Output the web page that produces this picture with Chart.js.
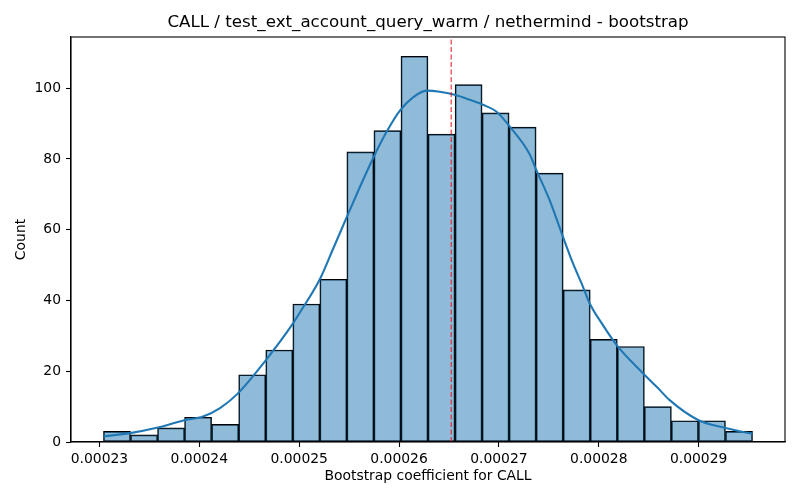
<!DOCTYPE html>
<html>
<head>
<meta charset="utf-8">
<script src="https://cdn.jsdelivr.net/npm/chart.js@4.4.1/dist/chart.umd.min.js"></script>
<style>
  html, body { margin: 0; padding: 0; background: #fff; }
  #wrap { width: 800px; height: 500px; }
</style>
</head>
<body>
<div id="wrap"><canvas id="histChart" width="800" height="500"></canvas></div>
<script>
  // histogram bins (edges) and counts
  const binEdges = [
    0.00023040, 0.00023311, 0.00023582, 0.00023852, 0.00024123, 0.00024394,
    0.00024665, 0.00024936, 0.00025207, 0.00025477, 0.00025748, 0.00026019,
    0.00026290, 0.00026561, 0.00026832, 0.00027102, 0.00027373, 0.00027644,
    0.00027915, 0.00028186, 0.00028457, 0.00028727, 0.00028998, 0.00029269,
    0.00029540
  ];
  const counts = [3, 2, 4, 7, 5, 19, 26, 39, 46, 82, 88, 109, 87, 101, 93, 89, 76, 43, 29, 27, 10, 6, 6, 3];

  // kde curve
  const kdeX = [
    0.0002304, 0.00023307, 0.00023574, 0.0002384, 0.00024037, 0.00024207, 0.00024382,
    0.00024657, 0.0002494, 0.00025007, 0.00025207, 0.0002534, 0.00025474, 0.00025607,
    0.0002574, 0.00025874, 0.00026007, 0.0002614, 0.00026274, 0.00026407, 0.00026557,
    0.00026707, 0.0002684, 0.00026974, 0.00027107, 0.00027307, 0.00027374, 0.00027507,
    0.0002764, 0.0002774, 0.0002784, 0.00027907, 0.0002804, 0.0002819, 0.0002844,
    0.0002859, 0.00028707, 0.0002899, 0.00029257, 0.0002954
  ];
  const kdeY = [
    1.6, 2.5, 4.0, 6.1, 7.2, 9.6, 13.6,
    22.8, 33.6, 36.6, 46.0, 54.6, 63.4, 72.0,
    80.2, 87.6, 93.6, 97.4, 99.3, 99.0, 98.1,
    96.7, 95.3, 93.4, 89.2, 81.4, 76.9, 68.4,
    58.1, 50.6, 44.0, 39.3, 33.1, 27.0, 19.5,
    15.3, 11.9, 6.3, 4.0, 2.3
  ];

  const meanValue = 0.00026522;
  const xTicks = [0.00023, 0.00024, 0.00025, 0.00026, 0.00027, 0.00028, 0.00029];
  const yTicks = [0, 20, 40, 60, 80, 100];
  const xMin = 0.00022715, xMax = 0.00029865;
  const yMax = 114.45;

  const titleText = 'CALL / test_ext_account_query_warm / nethermind - bootstrap';
  const font = 'DejaVu Sans';

  const barData = counts.map((c, i) => ({ x: (binEdges[i] + binEdges[i + 1]) / 2, y: c }));
  const kdeData = kdeX.map((x, i) => ({ x: x, y: kdeY[i] }));

  // frame + title drawn over the axes area (matplotlib style)
  const framePlugin = {
    id: 'frame',
    afterDraw(chart) {
      const { ctx, chartArea: a } = chart;
      ctx.save();
      ctx.strokeStyle = '#000';
      ctx.lineWidth = 1.1;
      ctx.strokeRect(a.left, a.top, a.right - a.left, a.bottom - a.top);
      ctx.fillStyle = '#000';
      ctx.font = '16.7px "' + font + '"';
      ctx.textAlign = 'center';
      ctx.textBaseline = 'middle';
      ctx.fillText(titleText, (a.left + a.right) / 2, 23);
      ctx.restore();
    }
  };

  const tickGrid = { display: true, offset: false, drawOnChartArea: false, drawTicks: true, tickLength: 5, tickWidth: 1.1, color: '#000' };

  new Chart(document.getElementById('histChart').getContext('2d'), {
    type: 'bar',
    data: {
      datasets: [
        {
          type: 'line',
          label: 'mean',
          data: [{ x: meanValue, y: 0 }, { x: meanValue, y: yMax }],
          borderColor: '#e8141c',
          borderWidth: 1,
          borderDash: [5, 2.5],
          pointRadius: 0,
          order: 0
        },
        {
          type: 'line',
          label: 'kde',
          data: kdeData,
          borderColor: '#1f77b4',
          borderWidth: 2.1,
          pointRadius: 0,
          cubicInterpolationMode: 'monotone',
          order: 1
        },
        {
          type: 'bar',
          label: 'Count',
          data: barData,
          backgroundColor: 'rgba(31, 119, 180, 0.5)',
          borderColor: '#000',
          borderWidth: 1,
          borderSkipped: false,
          barPercentage: 1,
          categoryPercentage: 1,
          order: 2
        }
      ]
    },
    options: {
      responsive: false,
      animation: false,
      devicePixelRatio: 1,
      layout: { padding: { top: 37, right: 15, bottom: 0, left: 0 } },
      plugins: {
        legend: { display: false },
        tooltip: { enabled: false },
        title: { display: false }
      },
      scales: {
        x: {
          type: 'linear',
          offset: false,
          min: xMin,
          max: xMax,
          afterFit: (scale) => { scale.height = 58; },
          afterBuildTicks: (scale) => { scale.ticks = xTicks.map(v => ({ value: v })); },
          grid: tickGrid,
          border: { display: true, color: '#000', width: 1.1 },
          ticks: {
            color: '#000',
            padding: 4,
            maxRotation: 0,
            font: { family: font, size: 13.9 },
            callback: (v) => v.toFixed(5)
          },
          title: {
            display: true,
            text: 'Bootstrap coefficient for CALL',
            color: '#000',
            font: { family: font, size: 13.9 },
            padding: { top: 0, bottom: 15 }
          }
        },
        y: {
          type: 'linear',
          min: 0,
          max: yMax,
          afterFit: (scale) => { scale.width = 71; },
          afterBuildTicks: (scale) => { scale.ticks = yTicks.map(v => ({ value: v })); },
          grid: tickGrid,
          border: { display: true, color: '#000', width: 1.1 },
          ticks: {
            color: '#000',
            padding: 5,
            font: { family: font, size: 13.9 },
            callback: (v) => String(v)
          },
          title: {
            display: true,
            text: 'Count',
            color: '#000',
            font: { family: font, size: 13.9 },
            padding: { top: 13, bottom: 0 }
          }
        }
      }
    },
    plugins: [framePlugin]
  });
</script>
</body>
</html>
